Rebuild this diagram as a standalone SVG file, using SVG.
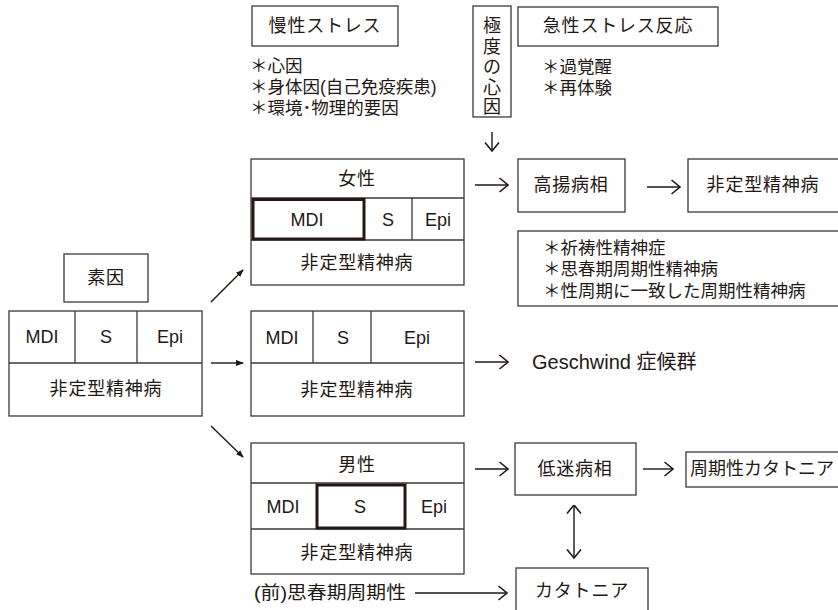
<svg xmlns="http://www.w3.org/2000/svg" width="838" height="610" viewBox="0 0 838 610">
<defs>
<style>
text{font-family:"Liberation Sans","Noto Sans CJK JP",sans-serif;fill:#231815;font-size:18px;dominant-baseline:central}
.c{text-anchor:middle}
.s{font-size:17.5px}
.w{letter-spacing:0.8px}
.b{fill:none;stroke:#3a3a3a;stroke-width:1.3}
.t{fill:none;stroke:#231815;stroke-width:3}
.l{fill:none;stroke:#231815;stroke-width:1.4}
</style>
<marker id="open" viewBox="0 0 10 16" refX="9.5" refY="8" markerWidth="10" markerHeight="16" markerUnits="userSpaceOnUse" orient="auto-start-reverse">
<path d="M1,1 L9.5,8 L1,15" fill="none" stroke="#231815" stroke-width="1.6"/>
</marker>
<marker id="fill" viewBox="0 0 8 8" refX="7" refY="4" markerWidth="8" markerHeight="8" markerUnits="userSpaceOnUse" orient="auto">
<path d="M0,1 L8,4 L0,7 Z" fill="#231815"/>
</marker>
</defs>

<g id="chronic-stress">
<rect class="b" x="252" y="6" width="146" height="40"/>
<text class="c w" x="325" y="26">慢性ストレス</text>
<text class="s" x="250" y="66">＊心因</text>
<text class="s" x="250" y="87">＊身体因(自己免疫疾患)</text>
<text class="s" x="250" y="108">＊環境･物理的要因</text>
</g>

<g id="extreme-cause">
<rect class="b" x="473" y="6" width="38" height="111"/>
<text class="c" x="492" y="26">極</text>
<text class="c" x="492" y="47">度</text>
<text class="c" x="492" y="67">の</text>
<text class="c" x="492" y="88">心</text>
<text class="c" x="492" y="107">因</text>
</g>

<g id="acute-stress">
<rect class="b" x="518" y="7" width="200" height="39"/>
<text class="c w" x="618" y="26">急性ストレス反応</text>
<text class="s" x="542" y="67">＊過覚醒</text>
<text class="s" x="542" y="88">＊再体験</text>
</g>

<g id="predisposition">
<rect class="b" x="64" y="254" width="84" height="48"/>
<text class="c w" x="106" y="278">素因</text>
</g>

<g id="base">
<rect class="b" x="9" y="311" width="193" height="105"/>
<line class="b" x1="9" y1="363" x2="202" y2="363"/>
<line class="b" x1="75" y1="311" x2="75" y2="363"/>
<line class="b" x1="137" y1="311" x2="137" y2="363"/>
<text class="c" x="42" y="337">MDI</text>
<text class="c" x="106" y="337">S</text>
<text class="c" x="170" y="337">Epi</text>
<text class="c w" x="106" y="389">非定型精神病</text>
</g>

<g id="female">
<rect class="b" x="251" y="159" width="213" height="126"/>
<line class="b" x1="251" y1="198" x2="464" y2="198"/>
<line class="b" x1="251" y1="240" x2="464" y2="240"/>
<line class="b" x1="412" y1="198" x2="412" y2="240"/>
<rect class="t" x="253" y="199.5" width="111" height="39.5"/>
<text class="c w" x="357" y="179">女性</text>
<text class="c" x="307" y="220">MDI</text>
<text class="c" x="388" y="220">S</text>
<text class="c" x="438" y="220">Epi</text>
<text class="c w" x="357" y="263">非定型精神病</text>
</g>

<g id="middle">
<rect class="b" x="251" y="311" width="213" height="105"/>
<line class="b" x1="251" y1="363" x2="464" y2="363"/>
<line class="b" x1="313" y1="311" x2="313" y2="363"/>
<line class="b" x1="371" y1="311" x2="371" y2="363"/>
<text class="c" x="282" y="338">MDI</text>
<text class="c" x="343" y="338">S</text>
<text class="c" x="417" y="338">Epi</text>
<text class="c w" x="357" y="390">非定型精神病</text>
</g>

<g id="male">
<rect class="b" x="251" y="443" width="213" height="131"/>
<line class="b" x1="251" y1="483" x2="464" y2="483"/>
<line class="b" x1="251" y1="529" x2="464" y2="529"/>
<rect class="t" x="317" y="485" width="88" height="43"/>
<text class="c w" x="357" y="465">男性</text>
<text class="c" x="283" y="507">MDI</text>
<text class="c" x="360" y="507">S</text>
<text class="c" x="434" y="507">Epi</text>
<text class="c w" x="357" y="553">非定型精神病</text>
</g>

<g id="manic">
<rect class="b" x="518" y="159" width="107" height="53"/>
<text class="c w" x="571" y="185">高揚病相</text>
</g>

<g id="atypical-right">
<rect class="b" x="688" y="159" width="160" height="53"/>
<text class="c w" x="763" y="185">非定型精神病</text>
</g>

<g id="list">
<rect class="b" x="518" y="231" width="330" height="75"/>
<text class="s" x="543" y="248">＊祈祷性精神症</text>
<text class="s" x="543" y="269">＊思春期周期性精神病</text>
<text class="s" x="543" y="291">＊性周期に一致した周期性精神病</text>
</g>

<g id="geschwind">
<text x="532" y="362" style="font-size:20px">Geschwind 症候群</text>
</g>

<g id="depressive">
<rect class="b" x="515" y="443" width="121" height="52"/>
<text class="c w" x="575" y="469">低迷病相</text>
</g>

<g id="periodic-catatonia">
<rect class="b" x="686" y="452" width="160" height="35"/>
<text x="690" y="469">周期性カタトニア</text>
</g>

<g id="catatonia">
<rect class="b" x="516" y="568" width="132" height="50"/>
<text class="c w" x="582" y="591">カタトニア</text>
</g>

<g id="prepubertal">
<text x="254" y="593" textLength="152" lengthAdjust="spacingAndGlyphs">(前)思春期周期性</text>
</g>

<g id="connectors">
<line class="l" x1="492" y1="132" x2="492" y2="151" marker-end="url(#open)"/>
<line class="l" x1="211" y1="302" x2="243" y2="270" marker-end="url(#fill)"/>
<line class="l" x1="211" y1="363" x2="243" y2="363" marker-end="url(#fill)"/>
<line class="l" x1="211" y1="426" x2="243" y2="457" marker-end="url(#fill)"/>
<line class="l" x1="475" y1="185" x2="508" y2="185" marker-end="url(#open)"/>
<line class="l" x1="647" y1="187" x2="680" y2="187" marker-end="url(#open)"/>
<line class="l" x1="475" y1="362" x2="508" y2="362" marker-end="url(#open)"/>
<line class="l" x1="475" y1="469" x2="508" y2="469" marker-end="url(#open)"/>
<line class="l" x1="643" y1="469" x2="673" y2="469" marker-end="url(#open)"/>
<line class="l" x1="574" y1="505" x2="574" y2="558" marker-start="url(#open)" marker-end="url(#open)"/>
<line class="l" x1="415" y1="593" x2="507" y2="593" marker-end="url(#open)"/>
</g>
</svg>
